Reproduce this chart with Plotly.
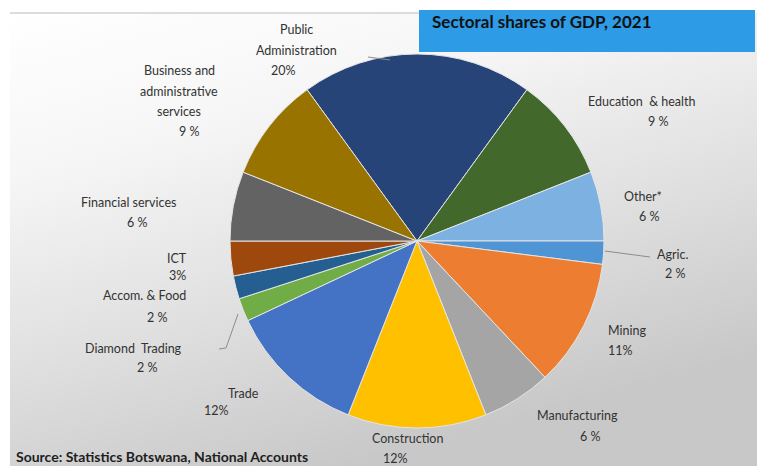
import base64
import plotly.graph_objects as go

# GDP shares by sector, 2021 (clockwise from Public Administration)
sectors = ["Public Administration", "Education & health", "Other*", "Agric.", "Mining",
           "Manufacturing", "Construction", "Trade", "Diamond Trading", "Accom. & Food",
           "ICT", "Financial services", "Business and administrative services"]
shares = [20, 9, 6, 2, 11, 6, 12, 12, 2, 2, 3, 6, 9]
colors = ["#264478", "#43682B", "#7DB1E1", "#4F95D6", "#ED7D31", "#A5A5A5", "#FFC000",
          "#4472C4", "#70AD47", "#255E91", "#9E480E", "#636363", "#997300"]

# How each sector name is broken into lines, and the gap before the % sign
name_lines = [["Public", "Administration"], ["Education  & health"], ["Other*"], ["Agric."],
              ["Mining"], ["Manufacturing"], ["Construction"], ["Trade"], ["Diamond  Trading"],
              ["Accom. & Food"], ["ICT"], ["Financial services"],
              ["Business and", "administrative", "services"]]
pct_gap = ["", " ", " ", " ", "", " ", "", "", " ", " ", "", " ", " "]

W, H = 757, 466

# Label placement in pixels: (name x, first name line y, line step, pct x, pct y)
label_pos = [(296, 30, 20.5, 283, 71), (642, 101, 20, 658, 121), (643, 196, 20, 649, 216),
             (672, 254, 20, 675, 273), (627, 330, 20, 620, 350), (577, 415, 20, 590, 436),
             (407, 438, 20, 395, 458), (243, 393, 20, 217, 410), (133, 348, 20, 147, 367),
             (144, 295, 20, 157, 317), (177, 258, 14, 177, 275), (128, 202, 20, 137, 222),
             (179, 71, 20.5, 189, 132)]


def px(x):
    return x / W


def py(y):
    return 1 - y / H


# Pie geometry (pixels)
cx, cy, r = 417, 241, 187

fig = go.Figure(go.Pie(
    labels=sectors, values=shares, sort=False, direction="clockwise", rotation=-36,
    marker=dict(colors=colors, line=dict(color="#E4E4E4", width=1)),
    textinfo="none", hoverinfo="label+percent", showlegend=False,
    domain=dict(x=[px(cx - r), px(cx + r)], y=[py(cy + r), py(cy - r)]),
))

font = dict(family="Lato, Carlito, sans-serif", size=12.5, color="#333333")
annotations = []
for lines, gap, v, (nx, ny, step, tx, ty) in zip(name_lines, pct_gap, shares, label_pos):
    for i, line in enumerate(lines):
        annotations.append(dict(x=px(nx), y=py(ny + i * step), text=line, showarrow=False,
                                xref="paper", yref="paper", xanchor="center",
                                yanchor="middle", font=font))
    annotations.append(dict(x=px(tx), y=py(ty), text=f"{v}{gap}%", showarrow=False,
                            xref="paper", yref="paper", xanchor="center", yanchor="middle",
                            font=font))

annotations.append(dict(x=px(430), y=py(21), text="<b>Sectoral shares of GDP, 2021</b>",
                        showarrow=False, xref="paper", yref="paper", xanchor="left",
                        yanchor="middle",
                        font=dict(family="Lato, Carlito, sans-serif", size=17, color="#111111")))
annotations.append(dict(x=px(14), y=py(456), text="<b>Source: Statistics Botswana, National Accounts</b>",
                        showarrow=False, xref="paper", yref="paper", xanchor="left",
                        yanchor="middle",
                        font=dict(family="Lato, Carlito, sans-serif", size=14, color="#1E1E1E")))

# Soft grey backdrop of the chart area
svg = (
    '<svg xmlns="http://www.w3.org/2000/svg" width="747" height="453" preserveAspectRatio="none">'
    '<defs><linearGradient id="g" x1="0" y1="0" x2="0.45" y2="1">'
    '<stop offset="0" stop-color="#ffffff"/><stop offset="0.3" stop-color="#f6f6f6"/>'
    '<stop offset="0.65" stop-color="#e0e0e0"/><stop offset="1" stop-color="#c8c8c8"/>'
    '</linearGradient></defs><rect width="747" height="453" fill="url(#g)"/></svg>'
)
src = "data:image/svg+xml;base64," + base64.b64encode(svg.encode()).decode()

shapes = [
    dict(type="line", xref="paper", yref="paper", x0=px(10), x1=px(420), y0=py(13), y1=py(13),
         line=dict(color="#DCDCDC", width=2)),
    dict(type="rect", xref="paper", yref="paper", x0=px(419), x1=px(755), y0=py(52), y1=py(10),
         fillcolor="#2E9BE6", line=dict(width=0)),
    # leader lines
    dict(type="line", xref="paper", yref="paper", x0=px(368), x1=px(390), y0=py(57), y1=py(60),
         line=dict(color="#8C8C8C", width=1)),
    dict(type="line", xref="paper", yref="paper", x0=px(605), x1=px(650), y0=py(251), y1=py(257),
         line=dict(color="#8C8C8C", width=1)),
    dict(type="path", xref="paper", yref="paper",
         path=f"M {px(238)},{py(314)} L {px(226)},{py(348)} L {px(219)},{py(349)}",
         line=dict(color="#8C8C8C", width=1)),
]

fig.update_layout(
    width=W, height=H, margin=dict(l=0, r=0, t=0, b=0),
    paper_bgcolor="#ffffff", plot_bgcolor="rgba(0,0,0,0)",
    annotations=annotations, shapes=shapes,
    images=[dict(source=src, xref="paper", yref="paper", x=px(10), y=py(13),
                 sizex=px(747), sizey=453 / H, xanchor="left", yanchor="top",
                 sizing="stretch", layer="below")],
)

fig.write_html("out.html")
